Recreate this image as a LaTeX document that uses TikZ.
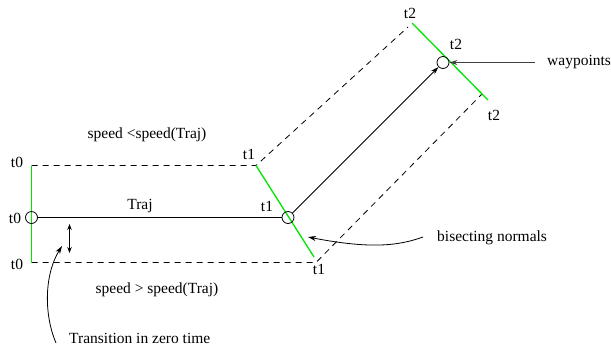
\documentclass[tikz,border=0pt]{standalone}
\usepackage{fontspec}
\setmainfont{Liberation Serif}
\usetikzlibrary{arrows.meta}
\definecolor{lgreen}{RGB}{0,230,0}
\begin{document}
\begin{tikzpicture}[x=1pt,y=-1pt,
  wp/.style={circle,draw,minimum size=12pt,inner sep=0pt,line width=0.8pt},
  lbl/.style={inner sep=0pt,font=\fontsize{15.5}{18}\selectfont},
  traj/.style={line width=0.8pt},
  bound/.style={dashed,dash pattern=on 6pt off 5pt,line width=0.8pt},
  normalline/.style={draw=lgreen,line width=1.3pt},
  tip/.style={-{Stealth[length=8pt,width=5pt,inset=2.5pt]}},
  dtip/.style={{Stealth[length=6pt,width=4.5pt,inset=2pt]}-{Stealth[length=6pt,width=4.5pt,inset=2pt]}}]
\useasboundingbox (0,0) rectangle (611,360);
% corners
\coordinate (a0t) at (31.5,165.5);
\coordinate (a0b) at (31.5,262.5);
\coordinate (n1t) at (256,165.5);
\coordinate (n1b) at (316,262.5);
\coordinate (n1g) at (314,257);
\coordinate (n2t) at (412,23);
\coordinate (n2td) at (408,27);
\coordinate (n2b) at (488,100);
\coordinate (n2bd) at (482,94);
% dashed bounds
\draw[bound] (a0t) -- (n1t) -- (n2td);
\draw[bound] (a0b) -- (n1b) -- (n2bd);
% green normals
\draw[normalline] (31.5,165.5) -- (31.5,262.5);
\draw[normalline] (n1t) -- (n1g);
\draw[normalline] (n2t) -- (n2b);
% waypoints
\node[wp] (w0) at (31.5,217.5) {};
\node[wp] (w1) at (288,217.5) {};
\node[wp] (w2) at (443,62.5) {};
% trajectory
\draw[traj] (w0) -- (w1);
\draw[traj,tip] (w1) -- (w2);
% labels
\node[lbl] (t0a) at (17,162) {t0};
\node[lbl] (t0b) at (15,218) {t0};
\node[lbl] (t0c) at (17,264) {t0};
\node[lbl] (sl) at (147,135) {speed <speed(Traj)};
\node[lbl] (sg) at (157,290) {speed > speed(Traj)};
\node[lbl] (trj) at (140,206) {Traj};
\node[lbl] (t1a) at (249,154) {t1};
\node[lbl] (t1b) at (267,206) {t1};
\node[lbl] (t1c) at (319,269) {t1};
\node[lbl] (t2a) at (410,13) {t2};
\node[lbl] (t2b) at (456,44) {t2};
\node[lbl] (t2c) at (494,115) {t2};
\node[lbl,anchor=west] (wl) at (547,62) {waypoints};
\node[lbl,anchor=west] (bl) at (437,238) {bisecting normals};
\node[lbl,anchor=west] (tl) at (69,338) {Transition in zero time};
% annotation arrows
\coordinate (wst) at (535,62.5);
\draw[tip,line width=1.2pt,black!75] (wst) -- (w2);
\coordinate (bst) at (423,237);
\coordinate (ben) at (308,237);
\draw[tip,line width=0.8pt] (bst) .. controls (398,246) and (370,249) .. (ben);
\coordinate (tst) at (56,343);
\coordinate (ten) at (62,246);
\draw[tip,line width=0.8pt] (tst) .. controls (44,315) and (44,275) .. (ten);
\coordinate (da) at (69.5,224);
\coordinate (db) at (69.5,253);
\draw[dtip,line width=0.8pt] (da) -- (db);
\end{tikzpicture}
\end{document}
